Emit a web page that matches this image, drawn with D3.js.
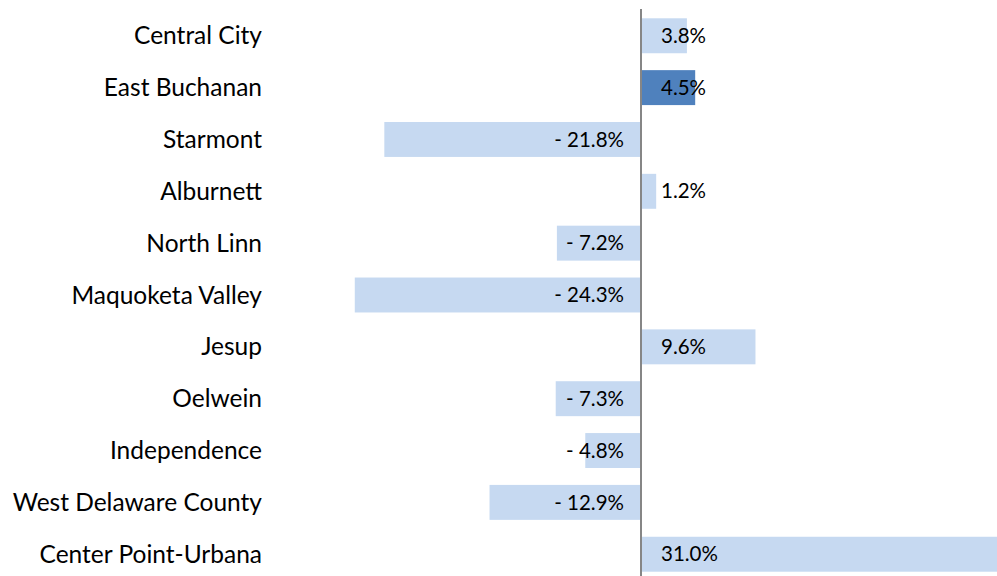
<!DOCTYPE html>
<html>
<head>
<meta charset="utf-8">
<script src="https://cdn.jsdelivr.net/npm/d3@7"></script>
<style>
  body { margin: 0; background: #fff; }
  svg { display: block; }
  .cat { font-family: Lato, "Open Sans", sans-serif; font-size: 24.5px; fill: #000; }
  .val { font-family: Lato, "Open Sans", sans-serif; font-size: 20.5px; fill: #000; }
</style>
</head>
<body>
<script>
let districts = ["Central City", "East Buchanan", "Starmont", "Alburnett", "North Linn",
  "Maquoketa Valley", "Jesup", "Oelwein", "Independence", "West Delaware County",
  "Center Point-Urbana"];
let changes = [3.8, 4.5, -21.8, 1.2, -7.2, -24.3, 9.6, -7.3, -4.8, -12.9, 31.0];
let highlighted = ["East Buchanan"];

let width = 997, height = 576;

let svg = d3.select("body")
  .append("svg")
  .attr("width", width)
  .attr("height", height)

let x = d3.scaleLinear()
  .domain([0, 31.0])
  .range([642, 642 + 31.0 * 11.82])

let y = d3.scaleBand()
  .domain(districts)
  .range([10, 580])
  .paddingInner(0.326)
  .paddingOuter(0.16)

let rows = districts.map(function (d, i) { return { name: d, value: changes[i] }; });

svg.append("g")
  .selectAll("rect")
  .data(rows)
  .enter()
  .append("rect")
  .attr("x", function (d) { return Math.min(x(0), x(d.value)); })
  .attr("y", function (d) { return y(d.name); })
  .attr("width", function (d) { return Math.abs(x(d.value) - x(0)); })
  .attr("height", y.bandwidth())
  .attr("fill", function (d) { return highlighted.indexOf(d.name) != -1 ? "#4f81bd" : "#c6d9f1"; })

// zero axis
svg.append("line")
  .attr("x1", x(0) - 1)
  .attr("x2", x(0) - 1)
  .attr("y1", 9)
  .attr("y2", height)
  .attr("stroke", "#868686")
  .attr("stroke-width", 2)

svg.append("g")
  .selectAll("text")
  .data(rows)
  .enter()
  .append("text")
  .attr("class", "cat")
  .attr("x", 262)
  .attr("y", function (d) { return y(d.name) + y.bandwidth() / 2; })
  .attr("dy", "0.35em")
  .attr("text-anchor", "end")
  .text(function (d) { return d.name; })

svg.append("g")
  .selectAll("text")
  .data(rows)
  .enter()
  .append("text")
  .attr("class", "val")
  .attr("x", function (d) { return d.value < 0 ? x(0) - 18 : x(0) + 19; })
  .attr("y", function (d) { return y(d.name) + y.bandwidth() / 2; })
  .attr("dy", "0.35em")
  .attr("text-anchor", function (d) { return d.value < 0 ? "end" : "start"; })
  .text(function (d) {
    return d.value < 0 ? "- " + Math.abs(d.value).toFixed(1) + "%" : d.value.toFixed(1) + "%";
  })
</script>
</body>
</html>
